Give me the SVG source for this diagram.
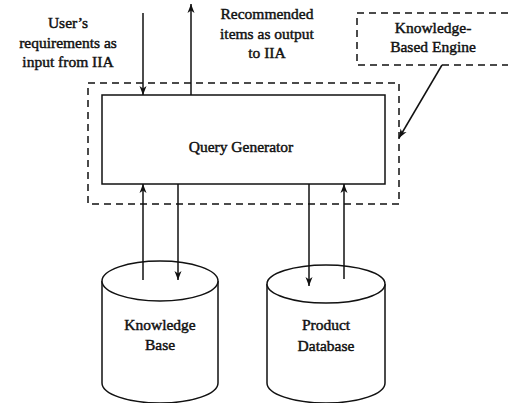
<svg xmlns="http://www.w3.org/2000/svg" width="508" height="403" viewBox="0 0 508 403">
<defs>
<style>
text{font-family:"Liberation Serif","Times New Roman",serif;font-size:15.5px;fill:#111;stroke:#111;stroke-width:0.45;text-anchor:middle}
.ln{stroke:#111;stroke-width:1.5;fill:none}
.dash{stroke:#111;stroke-width:1.5;fill:none;stroke-dasharray:7,5}
.cyl{stroke:#111;stroke-width:1.5;fill:#fff}
</style>
<marker id="ah" markerWidth="10" markerHeight="10" refX="9" refY="5" orient="auto" markerUnits="userSpaceOnUse">
<path d="M0,1.5 L9,5 L0,8.5 L2.5,5 Z" fill="#111"/>
</marker>
</defs>
<rect width="508" height="403" fill="#fff"/>
<g id="kbe">
<rect class="dash" x="357" y="13" width="158" height="52"/>
<text x="433" y="33">Knowledge-</text>
<text x="433" y="52">Based Engine</text>
</g>
<g id="engine-boundary">
<rect class="dash" x="88" y="83" width="311" height="121"/>
</g>
<g id="query-generator">
<rect class="ln" x="102" y="95" width="283" height="89" fill="#fff"/>
<text x="241" y="152">Query Generator</text>
</g>
<g id="knowledge-base">
<path class="cyl" d="M102,281 L102,383 A58,20 0 0 0 218,383 L218,281"/>
<ellipse class="cyl" cx="160" cy="281" rx="58" ry="20"/>
<text x="160" y="330">Knowledge</text>
<text x="160" y="350">Base</text>
</g>
<g id="product-database">
<path class="cyl" d="M267,284 L267,383 A59,20 0 0 0 385,383 L385,284"/>
<ellipse class="cyl" cx="326" cy="284" rx="59" ry="19"/>
<text x="326" y="330">Product</text>
<text x="326" y="351">Database</text>
</g>
<g id="labels">
<text x="68" y="28">User’s</text>
<text x="68" y="48">requirements as</text>
<text x="68" y="67">input from IIA</text>
<text x="267" y="19">Recommended</text>
<text x="267" y="39">items as output</text>
<text x="267" y="58">to IIA</text>
</g>
<g id="connectors">
<line class="ln" x1="143" y1="13" x2="143" y2="95" marker-end="url(#ah)"/>
<line class="ln" x1="191" y1="95" x2="191" y2="4" marker-end="url(#ah)"/>
<line class="ln" x1="442" y1="65" x2="399" y2="138" marker-end="url(#ah)"/>
<line class="ln" x1="143" y1="280" x2="143" y2="184" marker-end="url(#ah)"/>
<line class="ln" x1="178" y1="184" x2="178" y2="280" marker-end="url(#ah)"/>
<line class="ln" x1="309" y1="184" x2="309" y2="286" marker-end="url(#ah)"/>
<line class="ln" x1="344" y1="279" x2="344" y2="184" marker-end="url(#ah)"/>
</g>
</svg>
